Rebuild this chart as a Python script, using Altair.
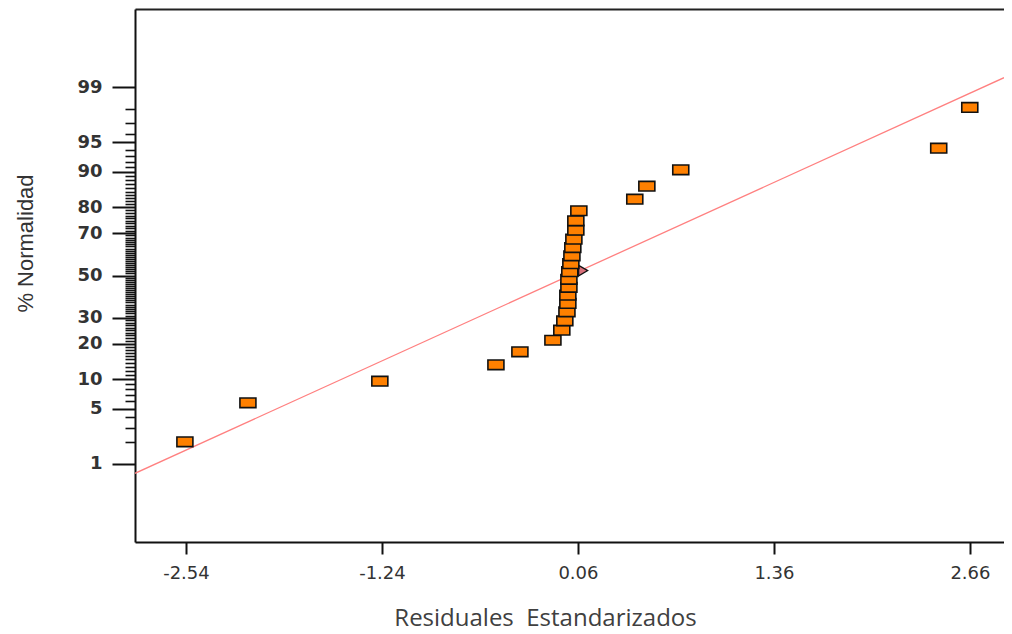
import altair as alt
import pandas as pd
from statistics import NormalDist

# ---- data ----
RESIDUALS = [-2.547, -2.129, -1.254, -0.484, -0.325, -0.106, -0.047, -0.027, -0.013,
             -0.007, -0.007, 0.000, 0.000, 0.006, 0.013, 0.020, 0.026, 0.033, 0.046,
             0.046, 0.066, 0.437, 0.517, 0.742, 2.453, 2.659]
NORMAL_PCT = [2.0, 5.8, 9.6, 13.5, 17.3, 21.2, 25.0, 28.8, 32.7, 36.5, 40.4, 44.2,
              48.1, 51.9, 55.8, 59.6, 63.5, 67.3, 71.2, 75.0, 78.8, 82.7, 86.5,
              90.4, 94.2, 98.1]
HIGHLIGHT_RESID = [0.095]
HIGHLIGHT_PCT = [52.4]
LINE_RESID = [-2.878, 2.886]
LINE_PCT = [0.73, 99.27]

X_TICKS = [-2.54, -1.24, 0.06, 1.36, 2.66]
Y_MAJOR = [1, 5, 10, 20, 30, 50, 70, 80, 90, 95, 99]
Y_MINOR = list(range(1, 100))

X_DOMAIN = [-2.878, 2.886]
Z_DOMAIN = [-3.29, 3.29]

nd = NormalDist()


def probit(p):
    return nd.inv_cdf(p / 100.0)


pts = pd.DataFrame({"res": RESIDUALS, "pct": NORMAL_PCT})
pts["z"] = pts["pct"].map(probit)
hl = pd.DataFrame({"res": HIGHLIGHT_RESID, "pct": HIGHLIGHT_PCT})
hl["z"] = hl["pct"].map(probit)
ln = pd.DataFrame({"res": LINE_RESID, "pct": LINE_PCT})
ln["z"] = ln["pct"].map(probit)

xscale = alt.Scale(domain=X_DOMAIN, nice=False, zero=False)
yscale = alt.Scale(domain=Z_DOMAIN, nice=False, zero=False)

major_list = ",".join(str(v) for v in Y_MAJOR)
pexpr = "round(cumulativeNormal(datum.value)*100)"
is_major = f"indexof([{major_list}], {pexpr}) >= 0"

yaxis = alt.Axis(
    values=[probit(p) for p in Y_MINOR],
    labelExpr=f"{is_major} ? '' + {pexpr} : ''",
    tickSize={"condition": {"test": is_major, "value": 23}, "value": 10},
    tickWidth={"condition": {"test": is_major, "value": 2}, "value": 1.6},
    tickColor="#111111",
    labelPadding=10,
    labelFont="DejaVu Sans",
    labelFontSize=18,
    labelFontWeight="bold",
    labelColor="#333333",
    labelOverlap=False,
    labelFlush=False,
    labelBound=False,
    grid=False,
    domainColor="#111111",
    domainWidth=2,
    title="% Normalidad",
    titleFont="Liberation Sans",
    titleFontSize=22,
    titleFontWeight="normal",
    titleColor="#333333",
    titleX=-110,
    titleY=234,
    titleAngle=-90,
    titleAlign="center",
    titleBaseline="middle",
)

xaxis_bottom = alt.Axis(
    values=X_TICKS,
    format=".2f",
    labelExpr="replace(datum.label, '\u2212', '-')",
    tickSize=12,
    tickWidth=2,
    tickColor="#111111",
    labelPadding=10,
    labelFont="DejaVu Sans",
    labelFontSize=18,
    labelColor="#333333",
    labelFlush=False,
    labelOverlap=False,
    grid=False,
    domainColor="#111111",
    domainWidth=2,
    title="Residuales\u00a0 Estandarizados",
    titleFont="Open Sans",
    titleFontSize=24,
    titleFontWeight="normal",
    titleColor="#404040",
    titleX=410,
    titleY=76,
    titleAlign="center",
    titleBaseline="middle",
)

xaxis_top = alt.Axis(
    orient="top",
    labels=False,
    ticks=False,
    grid=False,
    title=None,
    domainColor="#222222",
    domainWidth=2,
)

line = alt.Chart(ln).mark_line(color="#FF8080", strokeWidth=1.3, clip=True).encode(
    x=alt.X("res:Q", scale=xscale, axis=xaxis_bottom),
    y=alt.Y("z:Q", scale=yscale, axis=yaxis),
)

highlight = alt.Chart(hl).mark_point(
    shape="triangle-right", filled=True, fill="#D9707A", stroke="#111111",
    strokeWidth=1.2, size=110, opacity=1,
).encode(
    x=alt.X("res:Q", scale=xscale, axis=None),
    y=alt.Y("z:Q", scale=yscale, axis=yaxis),
)

rect_path = "M -1 -0.6 L 1 -0.6 L 1 0.6 L -1 0.6 Z"
points = alt.Chart(pts).mark_point(
    shape=rect_path, filled=True, fill="#FF8000", stroke="#111111",
    strokeWidth=1.6, size=256, opacity=1,
).encode(
    x=alt.X("res:Q", scale=xscale, axis=xaxis_top),
    y=alt.Y("z:Q", scale=yscale, axis=yaxis),
)

chart = (
    alt.layer(line, highlight, points)
    .resolve_axis(x="independent")
    .properties(
        width=869,
        height=533,
        autosize=alt.AutoSizeParams(type="none"),
        padding={"left": 127, "top": 1, "right": 0, "bottom": 92},
        background="white",
    )
    .configure_view(stroke=None)
)

chart.save("out.html", embed_options={"renderer": "svg", "actions": False})
